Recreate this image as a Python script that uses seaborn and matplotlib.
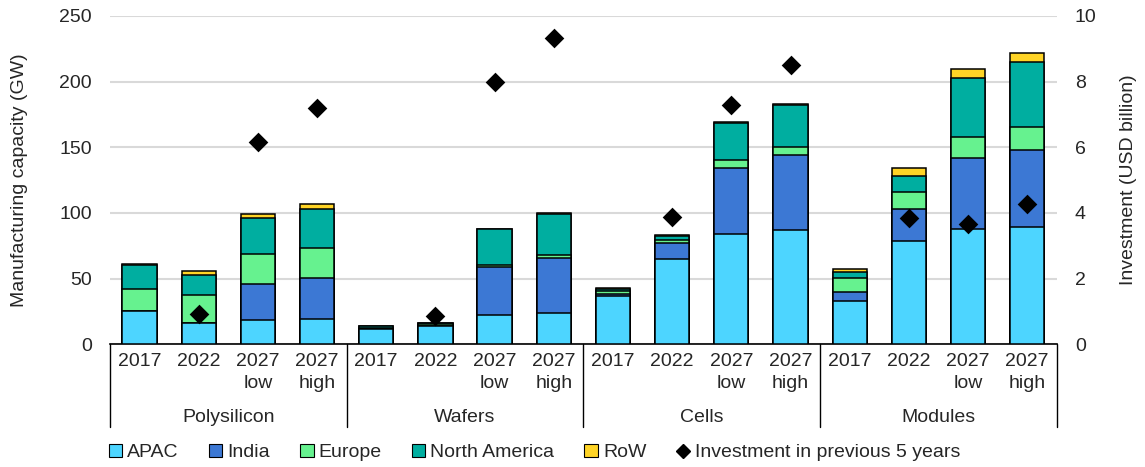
import numpy as np
import pandas as pd
import matplotlib
matplotlib.use("Agg")
import matplotlib.pyplot as plt
import matplotlib.transforms as mtransforms
from matplotlib.patches import Patch
from matplotlib.lines import Line2D
import seaborn as sns

# ---- data ----
groups = ["Polysilicon", "Wafers", "Cells", "Modules"]
periods = ["2017", "2022", "2027\nlow", "2027\nhigh"]
apac = [25, 16, 18.5, 19, 11.5, 14, 22.4, 23.6, 37, 64.5, 83.8, 87, 32.8, 78.5, 87.9, 89.4]
india = [0, 0, 27, 31.5, 0, 0, 36, 42.4, 1.5, 12.7, 50.3, 57, 7.3, 24.6, 53.9, 58.5]
europe = [17, 21.5, 23.3, 22.8, 1, 1.5, 1.8, 1.8, 2, 2, 6, 5.8, 10.2, 12.8, 16.2, 17.3]
north_america = [18, 15, 27.5, 30, 1.2, 0.5, 27.5, 31.5, 1.5, 3, 28, 32.5, 4.3, 11.9, 44.5, 49.7]
row = [1, 3, 3, 3.5, 0.3, 0.5, 0.3, 0.3, 0.5, 0.7, 0.8, 0.5, 2.3, 6.6, 6.9, 6.7]
investment = [np.nan, 0.93, 6.16, 7.18, np.nan, 0.85, 8.0, 9.32,
              np.nan, 3.86, 7.28, 8.49, np.nan, 3.84, 3.65, 4.26]

series_names = ["APAC", "India", "Europe", "North America", "RoW"]
series_vals = [apac, india, europe, north_america, row]
colors = ["#4DD5FF", "#3C78D4", "#66F28F", "#00AEA0", "#FFD426"]

keys = [f"{g}|{p}" for g in groups for p in periods]
df = pd.DataFrame({"key": keys})
cum = np.zeros(len(keys))
for name, vals in zip(series_names, series_vals):
    cum = cum + np.array(vals, dtype=float)
    df["cum_" + name] = cum
df["investment"] = investment
df["pos"] = np.arange(len(keys))

# ---- style ----
FS = 14
sns.set_theme(style="white")
plt.rcParams["font.family"] = ["Liberation Sans", "DejaVu Sans"]
plt.rcParams["font.size"] = FS

fig = plt.figure(figsize=(11.45, 4.67), dpi=100)
ax = fig.add_axes([0.096, 0.263, 0.827, 0.703])

# stacked bars by overlaying cumulative totals, top series first
for name, col in reversed(list(zip(series_names, colors))):
    sns.barplot(data=df, x="key", y="cum_" + name, order=keys, color=col,
                saturation=1, edgecolor="black", linewidth=1.1, width=0.58,
                ax=ax, zorder=3)

ax.set_ylim(0, 250)
ax.set_yticks(np.arange(0, 251, 50))
ax.set_xlim(-0.5, len(keys) - 0.5)
ax.yaxis.grid(True, color="#d9d9d9", linewidth=1.5, zorder=0)
ax.set_axisbelow(True)
for s in ["top", "left", "right"]:
    ax.spines[s].set_visible(False)
ax.spines["bottom"].set_color("black")
ax.spines["bottom"].set_linewidth(1.2)
ax.set_xlabel("")
ax.set_ylabel("Manufacturing capacity (GW)", fontsize=FS)
ax.yaxis.set_label_coords(-0.087, 0.5)
ax.tick_params(axis="y", length=0, labelsize=FS, pad=13)
ax.set_xticks(range(len(keys)))
ax.set_xticklabels([p for g in groups for p in periods], fontsize=FS)
ax.tick_params(axis="x", length=0, pad=6)
for lbl in ax.get_xticklabels():
    lbl.set_linespacing(1.45)

# group labels and separators
trans = mtransforms.blended_transform_factory(ax.transData, ax.transAxes)
n = len(periods)
for i, g in enumerate(groups):
    ax.text(i * n + (n - 1) / 2, -0.222, g, transform=trans, ha="center",
            va="center", fontsize=FS)
for b in range(len(groups) + 1):
    xb = b * n - 0.5
    ax.plot([xb, xb], [0, -0.253], transform=trans, color="black",
            linewidth=1.0, clip_on=False)

# investment on secondary axis
ax2 = ax.twinx()
sns.scatterplot(data=df, x="pos", y="investment", marker="D", color="black",
                s=100, edgecolor="black", linewidth=0, ax=ax2, zorder=5,
                legend=False)
ax2.set_ylim(0, 10)
ax2.set_yticks(np.arange(0, 11, 2))
ax2.set_xlim(-0.5, len(keys) - 0.5)
for s in ["top", "left", "right", "bottom"]:
    ax2.spines[s].set_visible(False)
ax2.set_ylabel("Investment (USD billion)", fontsize=FS)
ax2.yaxis.set_label_coords(1.0665, 0.5)
ax2.tick_params(axis="y", length=0, labelsize=FS, pad=13)
ax2.grid(False)

# legend
handles = [Patch(facecolor=c, edgecolor="black", linewidth=0.8, label=nm)
           for nm, c in zip(series_names, colors)]
handles.append(Line2D([], [], marker="D", color="black", linestyle="none",
                      markersize=7, label="Investment in previous 5 years"))
fig.legend(handles=handles, loc="center left", bbox_to_anchor=(0.095, 0.031),
           ncol=6, frameon=False, fontsize=FS, handlelength=0.7,
           handleheight=0.7, handletextpad=0.25, columnspacing=1.55,
           borderaxespad=0, borderpad=0)

fig.savefig("out.png", dpi=100)
